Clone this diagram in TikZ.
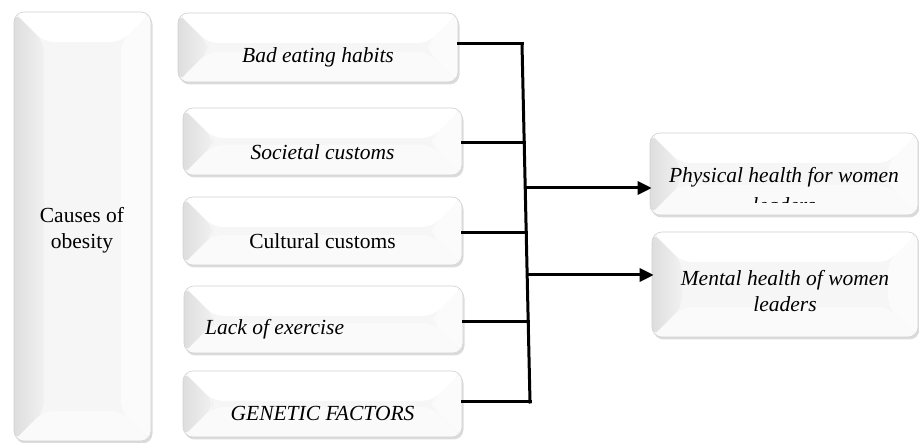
\documentclass[tikz,border=0pt]{standalone}
\usepackage{fontspec}
\setmainfont{Liberation Serif}
\usetikzlibrary{shadows,arrows.meta,calc}
\newcommand{\bw}{30pt}
\tikzset{
  bevbox/.style={rounded corners=10pt, draw=gray!35, line width=0.6pt,
    fill=gray!7, inner sep=0pt,
    drop shadow={shadow xshift=1.5pt, shadow yshift=-2.5pt, opacity=0.35, fill=gray!80},
    path picture={
      \coordinate (pNW) at (path picture bounding box.north west);
      \coordinate (pNE) at (path picture bounding box.north east);
      \coordinate (pSW) at (path picture bounding box.south west);
      \coordinate (pSE) at (path picture bounding box.south east);
      \coordinate (iNW) at ([xshift=\bw,yshift=-\bw]pNW);
      \coordinate (iNE) at ([xshift=-\bw,yshift=-\bw]pNE);
      \coordinate (iSW) at ([xshift=\bw,yshift=\bw]pSW);
      \coordinate (iSE) at ([xshift=-\bw,yshift=\bw]pSE);
      \shade[left color=gray!26, right color=gray!11] (pNW) -- (iNW) -- (iSW) -- (pSW) -- cycle;
      \fill[gray!3] (pNE) -- (iNE) -- (iSE) -- (pSE) -- cycle;
      \fill[white] (pNW) -- (pNE) -- (iNE) -- (iNW) -- cycle;
      \fill[gray!4] (pSW) -- (pSE) -- (iSE) -- (iSW) -- cycle;
    }},
  lbl/.style={font=\fontsize{21.5}{26}\selectfont, align=center, inner sep=0pt},
  conn/.style={line width=3pt, line cap=rect},
  arr/.style={line width=3pt, -{Triangle[length=14pt,width=13pt]}}
}
\begin{document}
\begin{tikzpicture}[x=1pt,y=-1pt]
\useasboundingbox (0,0) rectangle (919,443);
% left box
\node[bevbox, minimum width=137pt, minimum height=429pt] (L) at (82.5,226.5) {};
\node[lbl] (Lt) at (82,230) {Causes of\\obesity};
% cause boxes
\node[bevbox, minimum width=280pt, minimum height=69pt] (b1) at (318,47.5) {};
\node[lbl] (t1) at (318,57) {\itshape Bad eating habits};
\node[bevbox, minimum width=279pt, minimum height=67pt] (b2) at (322.5,141.5) {};
\node[lbl] (t2) at (322.5,152) {\itshape Societal customs};
\node[bevbox, minimum width=279pt, minimum height=68pt] (b3) at (322.5,231) {};
\node[lbl] (t3) at (322.5,241) {Cultural customs};
\node[bevbox, minimum width=279pt, minimum height=67pt] (b4) at (323.5,319.5) {};
\node[lbl, anchor=west] (t4) at (205,329) {\itshape Lack of exercise};
\node[bevbox, minimum width=279pt, minimum height=66pt] (b5) at (322.5,404) {};
\node[lbl] (t5) at (322.5,413) {\itshape GENETIC FACTORS};
% result boxes
\node[bevbox, minimum width=268pt, minimum height=82pt] (r1) at (784,174) {};
\node[lbl] (rt1) at (784,177) {\itshape Physical health for women};
\begin{scope}
\clip (650,133) rectangle (918,202.5);
\node[lbl] (rt1b) at (784,205) {\itshape leaders};
\end{scope}
\node[bevbox, minimum width=266pt, minimum height=105pt] (r2) at (785,284.5) {};
\node[lbl] (rt2) at (785,291) {\itshape Mental health of women\\\itshape leaders};
% junction coordinates
\coordinate (j1) at (522,44);
\coordinate (j2) at (524,143);
\coordinate (j3) at (526,233);
\coordinate (j4) at (528,322);
\coordinate (j5) at (530,402);
\coordinate (a1) at (525,188);
\coordinate (a2) at (527,275);
% connectors
\draw[conn] (j1) -- (j5);
\draw[conn] (b1.east |- j1) -- (j1);
\draw[conn] (b2.east |- j2) -- (j2);
\draw[conn] (b3.east |- j3) -- (j3);
\draw[conn] (b4.east |- j4) -- (j4);
\draw[conn] (b5.east |- j5) -- (j5);
\draw[arr] (a1) -- ([xshift=2pt]r1.west |- a1);
\draw[arr] (a2) -- ([xshift=2pt]r2.west |- a2);
\end{tikzpicture}
\end{document}
